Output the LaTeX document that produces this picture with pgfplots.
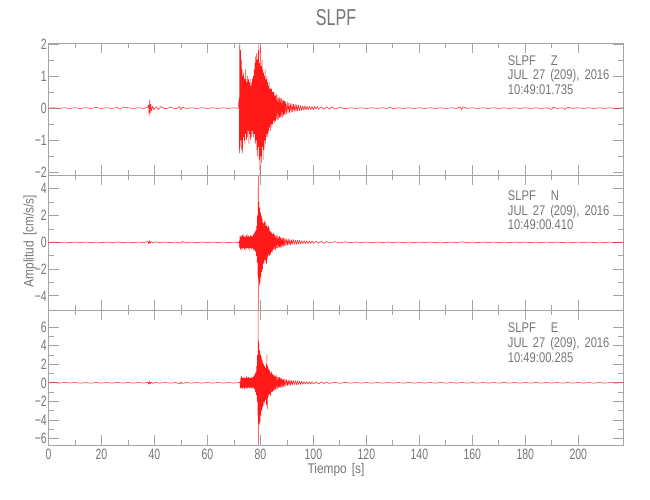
\documentclass[border=0pt]{standalone}
\usepackage{fontspec}
\setmainfont{Liberation Sans}[FakeStretch=0.7]
\newfontfamily\annfont{Liberation Sans}[FakeStretch=0.8]
\newfontfamily\labfont{Liberation Sans}[FakeStretch=0.85]
\usepackage{pgfplots}
\pgfplotsset{compat=1.18}
\definecolor{frame}{HTML}{A4A4A4}
\definecolor{txt}{HTML}{767676}
\newcommand\gap{\hspace{5bp}}
\pgfplotsset{
  panel/.style={
    scale only axis, width=574.8bp, xmin=0, xmax=217,
    axis line style={draw=frame, line width=0.8bp},
    tick style={draw=frame, line width=0.8bp},
    tick align=inside,
    major tick length=10bp, minor tick length=5bp,
    xtick={0,20,...,200}, minor x tick num=1, minor y tick num=1,
    xticklabels={},
    tick label style={font=\fontsize{15bp}{15bp}\selectfont, text=txt},
    yticklabel pos=left,
    yticklabel style={inner xsep=1.5bp},
    clip=true,
  },
  sig/.style={red, line width=0.5bp, line join=round, opacity=0.9},
}
\begin{document}
\begin{tikzpicture}[x=1bp,y=1bp]
\path[use as bounding box] (0,0) rectangle (650,500);
% ---------- top panel (Z)
\begin{axis}[panel, at={(48.5bp,324.5bp)}, anchor=south west, height=132.2bp,
  ymin=-2.1, ymax=2.02, ytick={-2,-1,0,1,2}, yticklabels={−2,−1,0,1,2}]
\addplot[sig] coordinates {
(0,0)(2,0.01)(4,-0.01)(6,0.01)(8,-0.01)(10,0.01)(12,-0.01)(14,0.01)(16,-0.01)(18,0.02)(20,-0.01)(22,0.01)(24,-0.01)(26,0.02)(27,-0.04)(28,0.03)(30,0.01)(32,-0.01)(34,0.01)(36,-0.01)(37.5,0.03)(37.8,0.1)(38.0,-0.25)(38.2,0.25)(38.4,-0.15)(38.6,0.12)(38.9,-0.08)(39.3,0.06)(39.8,-0.05)(40.5,0.04)(41.5,-0.04)(42.5,0.05)(44,-0.02)(46,0.02)(48,-0.02)(49.5,0.05)(50,-0.05)(50.5,0.03)(52,-0.01)(54,0.01)(56,-0.01)(58,0.01)(60,-0.01)(62,0.01)(64,-0.01)(66,0.01)(68,-0.01)(70,0.01)(71.6,-0.01)
(72.0,0.3)(72.1,-1.4)(72.2,2.0)(72.35,-1.2)(72.5,1.8)(72.65,-1.0)(72.8,1.5)(72.95,-1.3)(73.1,1.2)(73.25,-1.4)(73.4,1.0)(73.55,-0.9)(73.7,1.1)(73.85,-1.0)(74.0,0.9)(74.15,-1.1)(74.3,1.2)(74.45,-0.8)(74.6,0.9)(74.75,-1.0)(74.9,0.8)(75.05,-0.9)(75.2,1.0)(75.35,-0.7)(75.5,0.9)(75.65,-1.1)(75.8,0.8)(75.95,-0.8)(76.1,0.9)(76.25,-1.0)(76.4,0.7)(76.55,-0.9)(76.7,0.8)(76.85,-0.7)(77.0,0.9)(77.15,-0.8)(77.3,1.0)(77.45,-0.9)(77.6,1.2)(77.75,-0.8)(77.9,1.4)(78.05,-1.1)(78.2,1.6)(78.35,-1.0)(78.5,1.7)(78.65,-1.3)(78.8,1.5)(78.95,-1.5)(79.1,1.8)(79.25,-1.2)(79.4,2.0)(79.55,-1.6)(79.7,1.4)(79.85,-2.08)(80.0,1.9)(80.15,-1.5)(80.3,1.3)(80.45,-1.7)(80.6,1.5)(80.75,-1.2)(80.9,1.2)(81.05,-1.6)(81.2,1.1)(81.35,-1.3)(81.5,1.0)(81.65,-1.0)(81.8,1.2)(81.95,-1.1)(82.1,0.9)(82.25,-0.9)(82.4,1.0)(82.55,-0.8)(82.7,0.8)(82.85,-0.9)(83.0,0.7)(83.15,-0.7)(83.3,0.8)(83.45,-0.6)(83.6,0.6)(83.75,-0.7)(83.9,0.6)(84.05,-0.5)(84.2,0.6)(84.35,-0.6)(84.5,0.5)(84.65,-0.5)(84.8,0.5)(84.95,-0.4)(85.1,0.5)(85.3,-0.45)(85.5,0.4)(85.7,-0.4)(85.9,0.45)(86.1,-0.35)(86.3,0.4)(86.5,-0.35)(86.7,0.3)(86.9,-0.35)(87.1,0.35)(87.3,-0.3)(87.5,0.3)(87.7,-0.28)(87.9,0.3)(88.1,-0.25)(88.3,0.25)(88.5,-0.28)(88.7,0.25)(88.9,-0.2)(89.1,0.22)(89.3,-0.2)(89.5,0.2)(89.8,-0.18)(90.1,0.2)(90.4,-0.15)(90.7,0.16)(91.0,-0.15)(91.3,0.14)(91.6,-0.13)(91.9,0.14)(92.2,-0.12)(92.5,0.12)(92.8,-0.1)(93.1,0.12)(93.4,-0.1)(93.7,0.1)(94.0,-0.09)(94.4,0.1)(94.8,-0.08)(95.2,0.08)(95.6,-0.08)(96.0,0.07)(96.4,-0.07)(96.8,0.08)(97.2,-0.06)(97.6,0.06)(98.0,-0.06)(98.5,0.06)(99.0,-0.05)(99.5,0.05)(100,-0.05)(100.5,0.06)(101,-0.04)(101.5,0.05)(102,-0.04)(103,0.04)(104,-0.04)(105,0.04)(106,-0.03)(107,0.04)(108,-0.03)(110,0.02)(112,-0.02)(114,0.01)(116,-0.01)(118,0.01)(120,-0.01)(122,0.01)(124,-0.01)(126,0.01)(128,-0.01)(129,0.04)(130,-0.03)(132,0.01)(134,-0.01)(136,0.01)(138,-0.01)(140,0.01)(142,-0.01)(144,0.01)(146,-0.01)(148,0.01)(150,-0.01)(152,0.01)(154,-0.01)(155.5,0.04)(156,-0.05)(156.5,0.04)(158,-0.01)(160,0.01)(162,-0.01)(164,0.01)(166,-0.01)(168,0.01)(170,-0.01)(172,0.01)(174,-0.01)(176,0.01)(178,-0.01)(180,0.01)(182,-0.01)(184,0.01)(186,-0.01)(188,0.01)(190,-0.04)(190.5,0.03)(192,-0.01)(194,0.01)(195,-0.04)(196,0.03)(198,-0.01)(200,0.01)(202,-0.01)(204,0.01)(206,-0.01)(208,0.01)(210,-0.01)(212,0.01)(214,-0.01)(217,0.01)
};
\end{axis}
% ---------- middle panel (N)
\begin{axis}[panel, at={(48.5bp,189.5bp)}, anchor=south west, height=135bp,
  ymin=-5.09, ymax=4.99, ytick={-4,-2,0,2,4}, yticklabels={−4,−2,0,2,4}]
\addplot[sig] coordinates {
(0,0)(2,0.02)(4,-0.02)(6,0.02)(8,-0.02)(10,0.02)(12,-0.02)(14,0.02)(16,-0.02)(18,0.02)(20,-0.02)(22,0.02)(24,-0.02)(26,0.03)(28,-0.02)(30,0.02)(32,-0.02)(34,0.02)(36,-0.02)(37.6,0.06)(37.9,-0.12)(38.1,0.12)(38.4,-0.08)(38.8,0.06)(39.5,-0.05)(40.5,0.03)(42,-0.02)(44,0.02)(46,-0.02)(48,0.02)(50,-0.06)(50.5,0.05)(52,-0.02)(54,0.02)(56,-0.02)(58,0.02)(60,-0.02)(62,0.02)(64,-0.02)(66,0.02)(68,-0.02)(70,0.02)(71.8,-0.02)
(72.0,0.1)(72.15,-0.4)(72.3,0.5)(72.45,-0.5)(72.6,0.4)(72.75,-0.6)(72.9,0.5)(73.05,-0.4)(73.2,0.5)(73.35,-0.5)(73.5,0.6)(73.65,-0.4)(73.8,0.4)(73.95,-0.5)(74.1,0.5)(74.25,-0.6)(74.4,0.4)(74.55,-0.4)(74.7,0.5)(74.85,-0.5)(75.0,0.6)(75.15,-0.4)(75.3,0.4)(75.45,-0.5)(75.6,0.5)(75.75,-0.4)(75.9,0.4)(76.05,-0.6)(76.2,0.5)(76.35,-0.4)(76.5,0.5)(76.65,-0.5)(76.8,0.4)(76.95,-0.4)(77.1,0.5)(77.25,-0.6)(77.4,0.6)(77.55,-0.5)(77.7,0.7)(77.85,-0.6)(78.0,0.8)(78.15,-0.7)(78.3,0.9)(78.45,-1.0)(78.6,1.2)(78.75,-1.5)(78.9,2.0)(79.05,-2.5)(79.2,4.95)(79.3,-5.05)(79.45,3.0)(79.6,-3.2)(79.75,2.6)(79.9,-3.0)(80.05,2.2)(80.2,-2.6)(80.35,2.0)(80.5,-2.2)(80.65,1.8)(80.8,-2.0)(80.95,1.5)(81.1,-1.6)(81.25,1.4)(81.4,-1.5)(81.55,1.6)(81.7,-1.3)(81.85,1.5)(82.0,-1.4)(82.15,1.2)(82.3,-1.6)(82.45,1.3)(82.6,-1.2)(82.75,1.1)(82.9,-1.0)(83.05,1.2)(83.2,-0.9)(83.35,1.0)(83.5,-1.0)(83.65,0.8)(83.8,-0.9)(83.95,0.8)(84.1,-0.7)(84.25,0.7)(84.4,-0.8)(84.55,0.6)(84.7,-0.6)(84.85,0.7)(85.0,-0.5)(85.2,0.6)(85.4,-0.5)(85.6,0.5)(85.8,-0.6)(86.0,0.5)(86.2,-0.4)(86.4,0.5)(86.6,-0.4)(86.8,0.4)(87.0,-0.4)(87.2,0.45)(87.4,-0.35)(87.6,0.35)(87.8,-0.4)(88.0,0.3)(88.2,-0.3)(88.4,0.35)(88.6,-0.3)(88.8,0.3)(89.0,-0.25)(89.3,0.3)(89.6,-0.25)(89.9,0.25)(90.2,-0.2)(90.5,0.25)(90.8,-0.2)(91.1,0.2)(91.4,-0.2)(91.7,0.2)(92.0,-0.15)(92.4,0.2)(92.8,-0.15)(93.2,0.15)(93.6,-0.15)(94.0,0.15)(94.4,-0.12)(94.8,0.15)(95.2,-0.12)(95.6,0.12)(96.0,-0.1)(96.5,0.12)(97.0,-0.1)(97.5,0.1)(98.0,-0.1)(98.5,0.1)(99,-0.08)(99.5,0.1)(100,-0.08)(101,0.08)(102,-0.07)(103,0.07)(104,-0.06)(105,0.06)(106,-0.06)(108,0.05)(110,-0.04)(112,0.04)(114,-0.03)(116,0.03)(118,-0.02)(120,0.02)(122,-0.02)(124,0.02)(126,-0.02)(128,0.02)(130,-0.02)(132,0.02)(134,-0.02)(136,0.02)(138,-0.02)(140,0.02)(142,-0.02)(144,0.02)(146,-0.02)(148,0.02)(150,-0.02)(152,0.02)(154,-0.02)(156,0.04)(158,-0.02)(160,0.02)(162,-0.02)(164,0.02)(166,-0.02)(168,0.02)(170,-0.02)(172,0.02)(174,-0.02)(176,0.02)(178,-0.02)(180,0.02)(182,-0.02)(184,0.02)(186,-0.02)(188,0.02)(190,-0.02)(192,0.02)(194,-0.02)(196,0.02)(198,-0.02)(200,0.02)(202,-0.02)(204,0.02)(206,-0.02)(208,0.02)(210,-0.02)(212,0.02)(214,-0.02)(217,0.01)
};
\end{axis}
% ---------- bottom panel (E)
\begin{axis}[panel, at={(48.5bp,55bp)}, anchor=south west, height=134.5bp,
  ymin=-6.7, ymax=7.8, ytick={-6,-4,-2,0,2,4,6}, yticklabels={−6,−4,−2,0,2,4,6},
  xticklabels={0,20,40,60,80,100,120,140,160,180,200},
  xticklabel style={yshift=-1bp}]
\addplot[sig] coordinates {
(0,0)(2,0.03)(4,-0.03)(6,0.03)(8,-0.02)(10,0.03)(12,-0.03)(14,0.02)(16,-0.03)(18,0.03)(20,-0.03)(22,0.03)(24,-0.03)(26,0.04)(28,-0.03)(30,0.03)(32,-0.03)(34,0.03)(36,-0.03)(37.6,0.08)(37.9,-0.16)(38.1,0.16)(38.4,-0.1)(38.8,0.07)(39.5,-0.06)(40.5,0.04)(42,-0.03)(44,0.03)(46,-0.03)(48,0.03)(49.7,-0.1)(50,0.1)(50.4,-0.06)(52,0.03)(54,-0.03)(56,0.03)(58,-0.03)(60,0.03)(62,-0.03)(64,0.03)(66,-0.03)(68,0.03)(70,-0.03)(72.1,0.03)
(72.3,0.1)(72.45,-0.6)(72.6,0.6)(72.75,-0.5)(72.9,0.7)(73.05,-0.6)(73.2,0.5)(73.35,-0.6)(73.5,0.6)(73.65,-0.5)(73.8,0.5)(73.95,-0.7)(74.1,0.6)(74.25,-0.5)(74.4,0.5)(74.55,-0.6)(74.7,0.7)(74.85,-0.5)(75.0,0.5)(75.15,-0.6)(75.3,0.6)(75.45,-0.5)(75.6,0.6)(75.75,-0.5)(75.9,0.5)(76.05,-0.6)(76.2,0.5)(76.35,-0.5)(76.5,0.6)(76.65,-0.6)(76.8,0.5)(76.95,-0.5)(77.1,0.6)(77.25,-0.5)(77.4,0.7)(77.55,-0.6)(77.7,0.8)(77.85,-0.7)(78.0,1.0)(78.15,-1.0)(78.3,1.2)(78.45,-1.3)(78.6,1.8)(78.75,-2.0)(78.9,3.0)(79.05,-3.5)(79.15,7.75)(79.3,-6.65)(79.45,4.3)(79.6,-4.5)(79.75,3.5)(79.9,-4.2)(80.05,3.0)(80.2,-3.5)(80.35,2.8)(80.5,-3.0)(80.65,2.5)(80.8,-2.6)(80.95,2.2)(81.1,-2.4)(81.25,2.0)(81.4,-2.0)(81.55,1.8)(81.7,-2.2)(81.85,1.6)(82.0,-1.8)(82.15,2.0)(82.3,-2.4)(82.45,3.0)(82.6,-2.8)(82.75,1.8)(82.9,-1.6)(83.05,1.5)(83.2,-1.3)(83.35,1.4)(83.5,-1.2)(83.65,1.2)(83.8,-1.4)(83.95,1.0)(84.1,-1.0)(84.25,1.2)(84.4,-0.9)(84.55,1.0)(84.7,-1.0)(84.85,0.8)(85.0,-0.8)(85.2,0.9)(85.4,-0.8)(85.6,0.7)(85.8,-0.7)(86.0,0.8)(86.2,-0.6)(86.4,0.6)(86.6,-0.7)(86.8,0.6)(87.0,-0.5)(87.2,0.6)(87.4,-0.5)(87.6,0.5)(87.8,-0.5)(88.0,0.5)(88.2,-0.4)(88.4,0.4)(88.6,-0.45)(88.8,0.4)(89.0,-0.35)(89.3,0.4)(89.6,-0.35)(89.9,0.35)(90.2,-0.3)(90.5,0.3)(90.8,-0.3)(91.1,0.3)(91.4,-0.25)(91.7,0.25)(92.0,-0.25)(92.4,0.25)(92.8,-0.2)(93.2,0.22)(93.6,-0.2)(94.0,0.2)(94.4,-0.18)(94.8,0.18)(95.2,-0.16)(95.6,0.16)(96.0,-0.15)(96.5,0.15)(97.0,-0.14)(97.5,0.14)(98.0,-0.12)(98.5,0.12)(99,-0.12)(99.5,0.12)(100,-0.1)(101,0.1)(102,-0.1)(103,0.1)(104,-0.08)(105,0.08)(106,-0.07)(108,0.06)(110,-0.05)(112,0.04)(114,-0.03)(116,0.03)(118,-0.03)(120,0.03)(122,-0.03)(124,0.03)(126,-0.03)(128,0.03)(130,-0.03)(132,0.03)(134,-0.03)(136,0.03)(138,-0.03)(140,0.03)(142,-0.03)(144,0.03)(146,-0.03)(148,0.03)(150,-0.03)(152,0.03)(154,-0.03)(156,0.03)(158,-0.03)(160,0.03)(162,-0.03)(164,0.03)(166,-0.03)(168,0.03)(170,-0.03)(172,0.03)(174,-0.03)(176,0.03)(178,-0.03)(180,0.03)(182,-0.03)(184,0.03)(186,-0.03)(188,0.03)(190,-0.03)(192,0.03)(194,-0.03)(196,0.03)(198,-0.03)(200,0.03)(202,-0.03)(204,0.03)(206,-0.03)(208,0.03)(210,-0.03)(212,0.03)(214,-0.03)(217,0.02)
};
\end{axis}
% ---------- texts
\begin{scope}[every node/.style={text=txt, inner sep=0pt}]
\node[font=\fontsize{23bp}{23bp}\selectfont] at (336,482) {SLPF};
\node[font=\labfont\fontsize{14bp}{14bp}\selectfont] at (336,30) {Tiempo\gap[s]};
\node[font=\labfont\fontsize{14bp}{14bp}\selectfont, rotate=90] at (30,259) {Amplitud\gap[cm/s/s]};
\begin{scope}[every node/.append style={anchor=base west, font=\annfont\fontsize{14bp}{14bp}\selectfont}]
\node at (507.7,434) {SLPF\gap\gap\gap Z};
\node at (507.7,420) {JUL\gap 27\gap(209),\gap 2016};
\node at (507.7,405) {10:49:01.735};
\node at (507.7,299.3) {SLPF\gap\gap\gap N};
\node at (507.7,284.3) {JUL\gap 27\gap(209),\gap 2016};
\node at (507.7,270.7) {10:49:00.410};
\node at (507.7,167) {SLPF\gap\gap\gap E};
\node at (507.7,152) {JUL\gap 27\gap(209),\gap 2016};
\node at (507.7,137.5) {10:49:00.285};
\end{scope}
\end{scope}
\end{tikzpicture}
\end{document}
